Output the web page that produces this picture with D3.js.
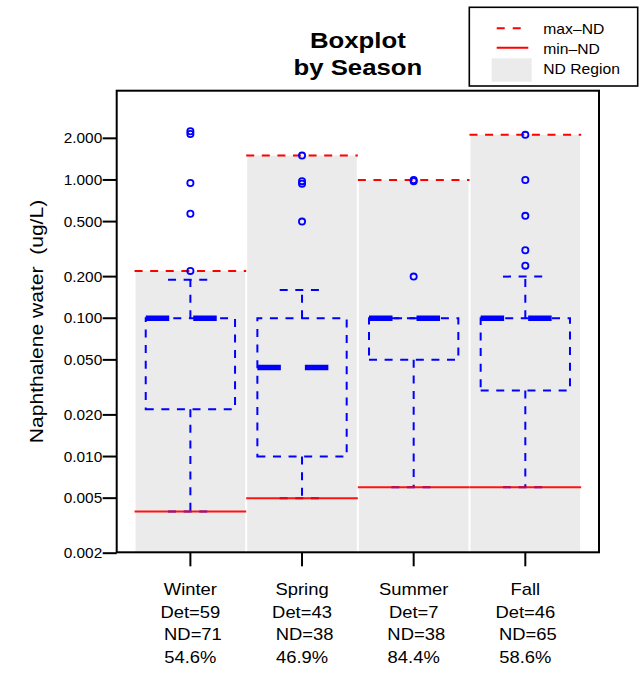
<!DOCTYPE html>
<html>
<head>
<meta charset="utf-8">
<script src="https://cdn.jsdelivr.net/npm/d3@7/dist/d3.min.js"></script>
<style>
  html, body { margin: 0; padding: 0; background: #fff; }
  text { font-family: "Liberation Sans", Arial, Helvetica, sans-serif; fill: #000; white-space: pre; }
</style>
</head>
<body>
<svg id="chart" width="644" height="677"></svg>
<script>
// ---------- data ----------
const seasons      = ["Winter", "Spring", "Summer", "Fall"];
const detCounts    = [59, 43, 7, 46];
const ndCounts     = [71, 38, 38, 65];
const ndPercents   = ["54.6%", "46.9%", "84.4%", "58.6%"];
const maxND        = [0.22, 1.5, 1.0, 2.12];
const minND        = [0.004, 0.005, 0.006, 0.006];
const whiskerLow   = [0.004, 0.005, 0.006, 0.006];
const q1           = [0.022, 0.010, 0.050, 0.030];
const medians      = [0.100, 0.044, 0.100, 0.100];
const q3           = [0.100, 0.100, 0.100, 0.100];
const whiskerHigh  = [0.19, 0.16, 0.10, 0.20];
const outliers     = [
  [0.22, 0.57, 0.95, 2.15, 2.25],
  [0.50, 0.94, 0.98, 1.5],
  [0.20, 0.98, 1.0],
  [0.24, 0.31, 0.55, 1.0, 2.12]
];
const yTicks       = [0.002, 0.005, 0.010, 0.020, 0.050, 0.100, 0.200, 0.500, 1.000, 2.000];
const titleLines   = ["Boxplot", "by Season"];
const yLabel       = "Naphthalene water  (ug/L)";
const legendLabels = ["max\u2013ND", "min\u2013ND", "ND Region"];

// ---------- layout ----------
const plot = { left: 116.7, right: 599, top: 90.7, bottom: 552.3 };
const BLUE = "#0000ff", RED = "#ff0000", GRAY = "#ebebeb";
const DASH = "8,7.6";

const svg = d3.select("#chart");
const x = d3.scaleLinear().domain([0.34, 4.66]).range([plot.left, plot.right]);
const y = d3.scaleLog().domain([0.00203, 4.42]).range([plot.bottom, plot.top]);

function stext(g, tx, ty, str, size, sx, anchor, weight) {
  return g.append("text")
    .attr("transform", `translate(${tx},${ty}) scale(${sx},1)`)
    .attr("text-anchor", anchor || "middle")
    .style("font-size", size + "px")
    .style("font-weight", weight || "normal")
    .text(str);
}

const idx = seasons.map((d, i) => i);

// ND region rectangles
svg.append("g").selectAll("rect").data(idx).join("rect")
  .attr("x", i => x(i + 0.5) + 1)
  .attr("width", i => x(i + 1.5) - x(i + 0.5) - 2)
  .attr("y", i => y(maxND[i]))
  .attr("height", i => plot.bottom - y(maxND[i]))
  .attr("fill", GRAY);

// max-ND dashed lines
svg.append("g").selectAll("line").data(idx).join("line")
  .attr("x1", i => x(i + 0.5)).attr("x2", i => x(i + 1.5))
  .attr("y1", i => y(maxND[i])).attr("y2", i => y(maxND[i]))
  .attr("stroke", RED).attr("stroke-width", 2).attr("stroke-dasharray", DASH);

// boxplots
const bw = 0.4, sw = 0.2;
const bg = svg.append("g").attr("fill", "none");
idx.forEach(i => {
  const c = i + 1;
  // box (polygon from bottom-left)
  const p = d3.path();
  p.moveTo(x(c - bw), y(q1[i]));
  p.lineTo(x(c + bw), y(q1[i]));
  p.lineTo(x(c + bw), y(q3[i]));
  p.lineTo(x(c - bw), y(q3[i]));
  p.closePath();
  bg.append("path").attr("d", p.toString())
    .attr("stroke", BLUE).attr("stroke-width", 2).attr("stroke-dasharray", DASH);
  // median
  bg.append("line")
    .attr("x1", x(c - bw)).attr("x2", x(c + bw))
    .attr("y1", y(medians[i])).attr("y2", y(medians[i]))
    .attr("stroke", BLUE).attr("stroke-width", 5.5).attr("stroke-dasharray", "23.5,24");
  // whiskers
  [[q3[i], whiskerHigh[i]], [q1[i], whiskerLow[i]]].forEach(([a, b]) => {
    if (a !== b) {
      bg.append("line")
        .attr("x1", x(c)).attr("x2", x(c))
        .attr("y1", y(a)).attr("y2", y(b))
        .attr("stroke", BLUE).attr("stroke-width", 2).attr("stroke-dasharray", DASH);
    }
    bg.append("line")
      .attr("x1", x(c - sw)).attr("x2", x(c + sw))
      .attr("y1", y(b)).attr("y2", y(b))
      .attr("stroke", BLUE).attr("stroke-width", 2).attr("stroke-dasharray", DASH);
  });
  // outliers
  bg.selectAll(null).data(outliers[i]).join("circle")
    .attr("cx", x(c)).attr("cy", v => y(v)).attr("r", 3.1)
    .attr("stroke", BLUE).attr("stroke-width", 1.8).attr("fill", "none");
});

// min-ND solid lines
svg.append("g").selectAll("line").data(idx).join("line")
  .attr("x1", i => x(i + 0.5)).attr("x2", i => x(i + 1.5))
  .attr("y1", i => y(minND[i])).attr("y2", i => y(minND[i]))
  .attr("stroke", RED).attr("stroke-width", 2).attr("stroke-opacity", 0.92);

// frame
svg.append("rect")
  .attr("x", plot.left).attr("y", plot.top)
  .attr("width", plot.right - plot.left).attr("height", plot.bottom - plot.top)
  .attr("fill", "none").attr("stroke", "#000").attr("stroke-width", 2);

// y axis ticks and labels
const ya = svg.append("g");
yTicks.forEach(v => {
  ya.append("line")
    .attr("x1", plot.left - 14).attr("x2", plot.left)
    .attr("y1", y(v)).attr("y2", y(v))
    .attr("stroke", "#000").attr("stroke-width", 2);
  stext(ya, plot.left - 14.5, y(v) + 5, d3.format(".3f")(v), 14, 1.1, "end");
});

// x ticks and multi-line labels
const xa = svg.append("g");
idx.forEach(i => {
  const c = i + 1;
  xa.append("line")
    .attr("x1", x(c)).attr("x2", x(c))
    .attr("y1", plot.bottom).attr("y2", plot.bottom + 14)
    .attr("stroke", "#000").attr("stroke-width", 2);
  const lines = [seasons[i], "Det=" + detCounts[i], " ND=" + ndCounts[i], ndPercents[i]];
  lines.forEach((s, k) => stext(xa, x(c), 595 + k * 22.6, s, 16, 1.15, "middle"));
});

// y label
svg.append("text")
  .attr("transform", `translate(42.5,${(plot.top + plot.bottom) / 2}) rotate(-90) scale(1.17,1)`)
  .attr("text-anchor", "middle")
  .style("font-size", "18px")
  .text(yLabel);

// title
titleLines.forEach((s, k) =>
  stext(svg, (plot.left + plot.right) / 2, 48.3 + k * 26.7, s, 23, 1.12, "middle", "bold"));

// legend
const lg = svg.append("g");
lg.append("rect").attr("x", 469.3).attr("y", 7.3).attr("width", 168.4).attr("height", 78.7)
  .attr("fill", "#fff").attr("stroke", "#000").attr("stroke-width", 1.6);
lg.append("line").attr("x1", 496.7).attr("x2", 528.3).attr("y1", 28.3).attr("y2", 28.3)
  .attr("stroke", RED).attr("stroke-width", 2).attr("stroke-dasharray", "8,8");
lg.append("line").attr("x1", 496.7).attr("x2", 528.3).attr("y1", 47.7).attr("y2", 47.7)
  .attr("stroke", RED).attr("stroke-width", 2);
lg.append("rect").attr("x", 491.7).attr("y", 58.3).attr("width", 40).attr("height", 23.4)
  .attr("fill", GRAY);
legendLabels.forEach((s, k) => stext(lg, 543.3, 34 + k * 20, s, 14, 1.12, "start"));
</script>
</body>
</html>
